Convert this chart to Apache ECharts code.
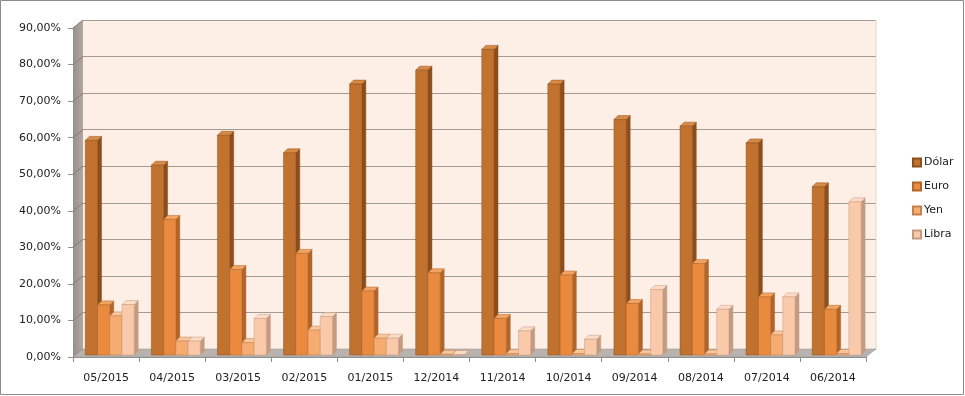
<!DOCTYPE html>
<html>
<head>
<meta charset="utf-8">
<script src="https://cdn.jsdelivr.net/npm/echarts@6/dist/echarts.min.js"></script>
<style>
html,body{margin:0;padding:0;background:#fff;}
#c{width:965px;height:396px;}
</style>
</head>
<body>
<div id="c"></div>
<script>
var categories = ['05/2015','04/2015','03/2015','02/2015','01/2015','12/2014','11/2014','10/2014','09/2014','08/2014','07/2014','06/2014'];
var seriesNames = ['Dólar','Euro','Yen','Libra'];
var dolar = [58.7, 51.9, 60.1, 55.3, 74.1, 77.9, 83.6, 74.1, 64.4, 62.6, 58.0, 46.0];
var euro  = [13.7, 37.1, 23.4, 27.8, 17.5, 22.5, 10.0, 21.9, 14.1, 25.0, 15.9, 12.5];
var yen   = [10.7, 3.8, 3.4, 6.8, 4.6, 0.2, 0.4, 0.4, 0.3, 0.3, 5.5, 0.4];
var libra = [13.8, 3.8, 10.0, 10.5, 4.6, 0.1, 6.6, 4.3, 17.9, 12.5, 15.9, 41.9];
var yTicks = [0,10,20,30,40,50,60,70,80,90];

var values = [dolar, euro, yen, libra];
var faceColors = [
  {front:'#C2722F', side:'#8C4E1C', top:'#D88A47', edge:'#8C4E1C'},
  {front:'#E98A3F', side:'#B0652A', top:'#F2A562', edge:'#B0652A'},
  {front:'#F6AB71', side:'#C2804E', top:'#F9C59B', edge:'#C2804E'},
  {front:'#FAC9AA', side:'#C49A80', top:'#FCDCC7', edge:'#C49A80'}
];
var DX = 4, DY = 4;   // bar depth
var WX = 10, WY = 8;  // wall depth

function makeRender(si){
  var c = faceColors[si];
  return function(params, api){
    var idx = api.value(0);
    var v = api.value(1);
    var top = api.coord([idx, v]);
    var base = api.coord([idx, 0]);
    var band = api.size([1, 0])[0];
    var w = band * 0.185;
    var x0 = top[0] - band/2 + band*0.186 + si*w;
    var x1 = x0 + w;
    var yb = base[1] - 2;
    var yt = top[1] - 2;
    return {
      type:'group',
      children:[
        {type:'polygon', shape:{points:[[x1,yt],[x1+DX,yt-DY],[x1+DX,yb-DY],[x1,yb]]},
         style:{fill:c.side, stroke:c.edge, lineWidth:0.5}},
        {type:'polygon', shape:{points:[[x0,yt],[x0+DX,yt-DY],[x1+DX,yt-DY],[x1,yt]]},
         style:{fill:c.top, stroke:c.edge, lineWidth:0.5}},
        {type:'rect', shape:{x:x0, y:yt, width:w, height:yb-yt},
         style:{fill:c.front, stroke:c.edge, lineWidth:0.5}}
      ]
    };
  };
}

var series = [];
series.push({type:'line', xAxisIndex:1, yAxisIndex:1, data:[], silent:true});
for (var s=0; s<4; s++){
  var d = [];
  for (var i=0;i<categories.length;i++) d.push([i, values[s][i]]);
  series.push({
    name: seriesNames[s], type:'custom', xAxisIndex:0, yAxisIndex:0,
    renderItem: makeRender(s), data:d,
    encode:{x:0, y:1},
    itemStyle:{color:faceColors[s].front, borderColor:faceColors[s].edge, borderWidth:0.5},
    z: 5 + s
  });
}

var chart = echarts.init(document.getElementById('c'));
var option = {
  animation:false,
  backgroundColor:'#ffffff',
  textStyle:{fontFamily:'DejaVu Sans'},
  legend:{
    orient:'vertical', left:907, top:152,
    itemWidth:8, itemHeight:8, itemGap:13,
    icon:'rect',
    data: seriesNames,
    textStyle:{fontSize:11, color:'#222', fontFamily:'DejaVu Sans', padding:[0,0,0,-2]}
  },
  grid:[
    {left:73, right:99, top:28, bottom:39, show:false, z:3},
    {left:73+WX, right:99-WX, top:28-WY, bottom:39+WY, show:true,
     backgroundColor:'#FDEFE6', borderWidth:0, z:0}
  ],
  xAxis:[
    {type:'category', gridIndex:0, data:categories,
     axisLine:{show:true, lineStyle:{color:'#8f8f8f'}},
     axisTick:{show:true, length:5, lineStyle:{color:'#8f8f8f'}},
     axisLabel:{fontSize:11, color:'#222', margin:16, interval:0},
     z:6},
    {type:'category', gridIndex:1, data:categories, show:false}
  ],
  yAxis:[
    {type:'value', gridIndex:0, min:0, max:90, interval:10,
     axisLine:{show:true, lineStyle:{color:'#8f8f8f'}},
     axisTick:{show:true, length:5, lineStyle:{color:'#8f8f8f'}},
     splitLine:{show:false},
     axisLabel:{fontSize:11, color:'#222', margin:12,
       formatter:function(v){ return v.toFixed(2).replace('.', ',') + '%'; }}},
    {type:'value', gridIndex:1, min:0, max:90, interval:10,
     axisLine:{show:false}, axisTick:{show:false}, axisLabel:{show:false},
     splitLine:{show:true, lineStyle:{color:'#A39A93', width:1}}}
  ],
  series: series
};
chart.setOption(option);

var gridModel = chart.getModel().getComponent('grid', 0);
var rect = gridModel.coordinateSystem.getRect();
var xl = rect.x, xr = rect.x + rect.width, yb = rect.y + rect.height, ytp = rect.y;
var gfx = [];
gfx.push({type:'polygon', z:1, silent:true,
  shape:{points:[[xl,yb],[xl+WX,yb-WY],[xl+WX,ytp-WY],[xl,ytp]]},
  style:{fill:new echarts.graphic.LinearGradient(0,0,1,0,[{offset:0,color:'#998F8A'},{offset:1,color:'#B0A8A2'}])}});
for (var t=0;t<yTicks.length;t++){
  var py = chart.convertToPixel({yAxisIndex:0}, yTicks[t]);
  gfx.push({type:'line', z:2, silent:true,
    shape:{x1:xl, y1:py, x2:xl+WX, y2:py-WY},
    style:{stroke:'#857d78', lineWidth:1}});
}
gfx.push({type:'polygon', z:2, silent:true,
  shape:{points:[[xl,yb],[xl+WX,yb-WY],[xr+WX,yb-WY],[xr,yb]]},
  style:{fill:'#B8B3AF', stroke:'#9a9490', lineWidth:0.5}});
gfx.push({type:'line', z:2, silent:true,
  shape:{x1:xr+WX, y1:ytp-WY, x2:xr+WX, y2:yb-WY},
  style:{stroke:'#E6D6CC', lineWidth:1}});
gfx.push({type:'rect', z:0, silent:true,
  shape:{x:0.5, y:0.5, width:963, height:394},
  style:{fill:null, stroke:'#8c8c8c', lineWidth:1}});
chart.setOption({graphic:gfx});
</script>
</body>
</html>
